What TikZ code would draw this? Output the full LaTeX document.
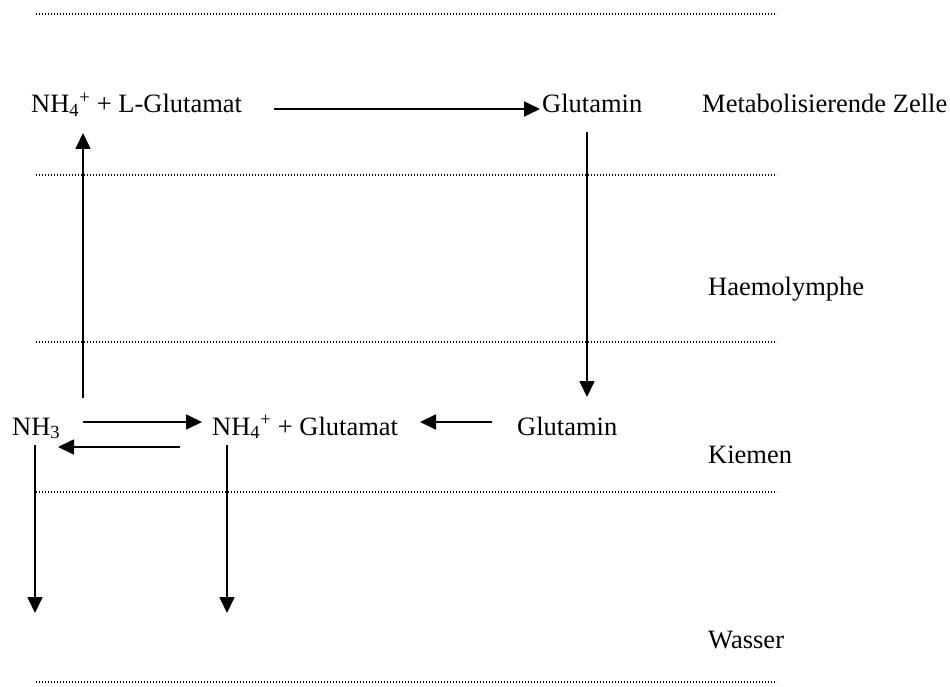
\documentclass[tikz,border=0pt]{standalone}
\usepackage{fontspec}
\setmainfont{Liberation Serif}
\usetikzlibrary{arrows.meta}
\begin{document}
\begin{tikzpicture}[x=1pt,y=-1pt,
  lbl/.style={anchor=base west, inner sep=0pt, font=\fontsize{26.5}{30}\selectfont},
  sep/.style={line width=1.3pt, dash pattern=on 1.3pt off 1.7pt},
  arr/.style={line width=1.7pt, -{Triangle[length=16pt,width=15pt]}}]
\useasboundingbox (0,0) rectangle (950,687);
% layer separators
\foreach \yy/\nm in {14/s1,175/s2,342/s3,492/s4,682/s5}{
  \coordinate (\nm a) at (36,\yy);
  \coordinate (\nm b) at (777,\yy);
  \draw[sep] (\nm a) -- (\nm b);
}
% labels
\node[lbl] (nhglu) at (31,113) {NH\textsubscript{4}\textsuperscript{+} + L-Glutamat};
\node[lbl] (glnA) at (542,113) {Glutamin};
\node[lbl] (zelle) at (702,113) {Metabolisierende Zelle};
\node[lbl] (haemo) at (708,295) {Haemolymphe};
\node[lbl] (nhthree) at (12,435) {NH\textsubscript{3}};
\node[lbl] (nhgluB) at (212,435) {NH\textsubscript{4}\textsuperscript{+} + Glutamat};
\node[lbl] (glnB) at (517,435) {Glutamin};
\node[lbl] (kiemen) at (708,463) {Kiemen};
\node[lbl] (wasser) at (708,648) {Wasser};
% arrow endpoints
\coordinate (upS) at (83,398);   \coordinate (upE) at (83,133);
\coordinate (topS) at (274,109); \coordinate (topE) at (540,109);
\coordinate (dnS) at (587,132);  \coordinate (dnE) at (587,397);
\coordinate (fwS) at (83,422);   \coordinate (fwE) at (202,422);
\coordinate (bkS) at (180,447);  \coordinate (bkE) at (58,447);
\coordinate (glS) at (492,422);  \coordinate (glE) at (420,422);
\coordinate (wAS) at (35,445);   \coordinate (wAE) at (35,613);
\coordinate (wBS) at (227,445);  \coordinate (wBE) at (227,613);
% arrows
\draw[arr] (upS) -- (upE);
\draw[arr] (topS) -- (topE);
\draw[arr] (dnS) -- (dnE);
\draw[arr] (fwS) -- (fwE);
\draw[arr] (bkS) -- (bkE);
\draw[arr] (glS) -- (glE);
\draw[arr] (wAS) -- (wAE);
\draw[arr] (wBS) -- (wBE);
\end{tikzpicture}
\end{document}
